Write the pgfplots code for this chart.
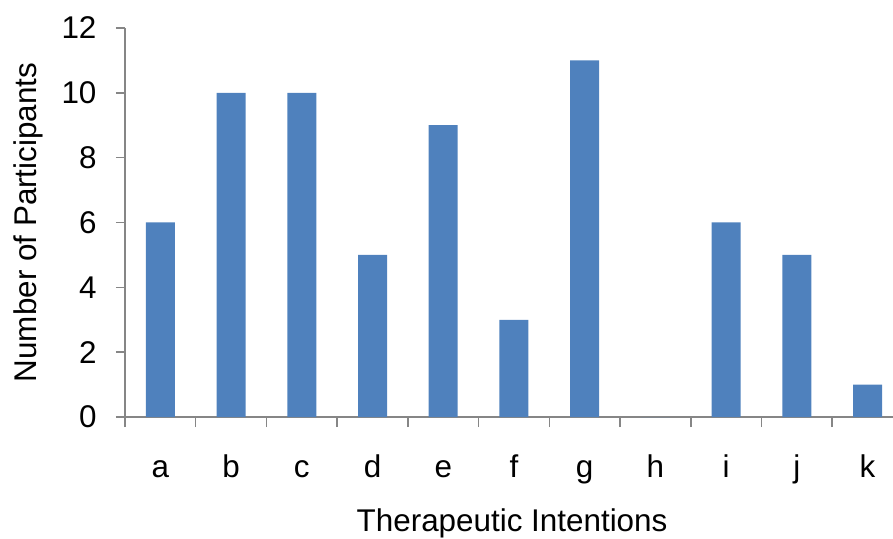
\documentclass[border=0pt]{standalone}
\usepackage{pgfplots}
\pgfplotsset{compat=1.18}
\usepackage{fontspec}
\setmainfont{Liberation Sans}
\definecolor{barblue}{HTML}{4F81BD}
\definecolor{axgray}{HTML}{868686}
\begin{document}
\begin{tikzpicture}
\path[use as bounding box] (0,0) rectangle (893pt,538pt);
\begin{axis}[
  at={(125pt,121pt)}, anchor=south west,
  scale only axis, width=768pt, height=389pt,
  xmin=-0.5, xmax=10.36, ymin=0, ymax=12,
  axis x line=bottom, axis y line=left,
  axis line style={draw=axgray, line width=1.5pt, -},
  every tick/.style={draw=axgray, line width=1.5pt},
  tick align=outside,
  major tick length=9pt, minor tick length=10pt,
  xtick={0,1,2,3,4,5,6,7,8,9,10},
  xticklabels={a,b,c,d,e,f,g,h,i,j,k},
  minor xtick={-0.5,0.5,1.5,2.5,3.5,4.5,5.5,6.5,7.5,8.5,9.5},
  major x tick style={draw=none},
  ytick={0,2,4,6,8,10,12},
  /pgf/number format/assume math mode=true,
  tick label style={font=\fontsize{31.4}{37}\selectfont, text=black},
  xticklabel style={anchor=base, yshift=-51pt},
  yticklabel style={anchor=east, xshift=-16pt},
  every axis x label/.style={at={(axis description cs:0.504,-0.2956)}, anchor=base, font=\fontsize{31.4}{37}\selectfont, text=black},
  every axis y label/.style={at={(axis description cs:-0.1263,0.5)}, rotate=90, anchor=center, font=\fontsize{31.4}{37}\selectfont, text=black},
  xlabel={Therapeutic Intentions},
  ylabel={Number of Participants},
  ybar, bar width=29pt,
]
\addplot[fill=barblue, draw=none] coordinates {
(0,6) (1,10) (2,10) (3,5) (4,9) (5,3) (6,11) (7,0) (8,6) (9,5) (10,1)};
\end{axis}
\end{tikzpicture}
\end{document}
